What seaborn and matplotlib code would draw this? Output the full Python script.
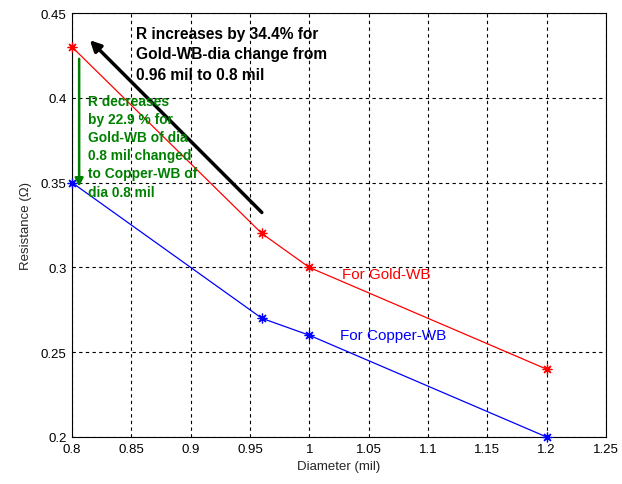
import matplotlib
matplotlib.use("Agg")
import matplotlib.pyplot as plt
import seaborn as sns
import pandas as pd

diameter = [0.8, 0.96, 1.0, 1.2]
r_gold = [0.43, 0.32, 0.30, 0.24]
r_copper = [0.35, 0.27, 0.26, 0.20]
x_ticks = [0.8, 0.85, 0.9, 0.95, 1.0, 1.05, 1.1, 1.15, 1.2, 1.25]
y_ticks = [0.2, 0.25, 0.3, 0.35, 0.4, 0.45]
x_tick_labels = ["0.8", "0.85", "0.9", "0.95", "1", "1.05", "1.1", "1.15", "1.2", "1.25"]
y_tick_labels = ["0.2", "0.25", "0.3", "0.35", "0.4", "0.45"]

df = pd.DataFrame({
    "Diameter": diameter * 2,
    "Resistance": r_gold + r_copper,
    "Wire": ["Gold-WB"] * 4 + ["Copper-WB"] * 4,
})

sns.set_style("white")
plt.rcParams["font.family"] = ["Liberation Sans", "DejaVu Sans"]

fig = plt.figure(figsize=(6.22, 4.85), dpi=100)
ax = fig.add_axes([0.1158, 0.097, 0.8582, 0.874])

asterisk = (8, 2, 0)
sns.lineplot(data=df, x="Diameter", y="Resistance", hue="Wire",
             palette={"Gold-WB": "#ff0000", "Copper-WB": "#0000ff"},
             marker=asterisk, markersize=7, markeredgewidth=0.9,
             linewidth=0.9, legend=False, ax=ax)
for ln in ax.lines:
    ln.set_markeredgecolor(ln.get_color())
    ln.set_markerfacecolor(ln.get_color())
    ln.set_clip_on(False)
    ln.set_zorder(3)

ax.set_xlim(0.8, 1.25)
ax.set_ylim(0.2, 0.45)
ax.set_xticks(x_ticks)
ax.set_xticklabels(x_tick_labels)
ax.set_yticks(y_ticks)
ax.set_yticklabels(y_tick_labels)
ax.tick_params(direction="in", length=4, labelsize=9.5, colors="black", pad=4)
ax.grid(True, linestyle=(0, (3, 3)), color="black", linewidth=0.8)
for s in ax.spines.values():
    s.set_color("black")
    s.set_linewidth(0.8)
    s.set_visible(True)
ax.set_xlabel("Diameter (mil)", fontsize=9.5, labelpad=4)
ax.set_ylabel("Resistance (\u03a9)", fontsize=9.5, labelpad=6)

# curve labels
ax.text(1.028, 0.296, "For Gold-WB", color="#ff0000", fontsize=11, va="center")
ax.text(1.026, 0.26, "For Copper-WB", color="#0000ff", fontsize=11, va="center")

# black arrow: increase from 0.96 mil to 0.8 mil
ax.annotate("", xy=(0.815, 0.434), xytext=(0.960, 0.3324),
            arrowprops=dict(arrowstyle="-|>", color="black", lw=2.5,
                            mutation_scale=16, shrinkA=0, shrinkB=0))
ax.text(0.854, 0.4425,
        "R increases by 34.4% for\nGold-WB-dia change from\n0.96 mil to 0.8 mil",
        fontsize=11.2, fontweight="bold", color="black", va="top",
        linespacing=1.45)

# green arrow: gold to copper at 0.8 mil
green = "#008000"
ax.annotate("", xy=(0.806, 0.3476), xytext=(0.806, 0.423),
            arrowprops=dict(arrowstyle="-|>", color=green, lw=1.8,
                            mutation_scale=12, shrinkA=0, shrinkB=0))
ax.text(0.8135, 0.4025,
        "R decreases\nby 22.9 % for\nGold-WB of dia\n0.8 mil changed\nto Copper-WB of\ndia 0.8 mil",
        fontsize=9.9, fontweight="bold", color=green, va="top",
        linespacing=1.38)

fig.savefig("out.png", dpi=100)
